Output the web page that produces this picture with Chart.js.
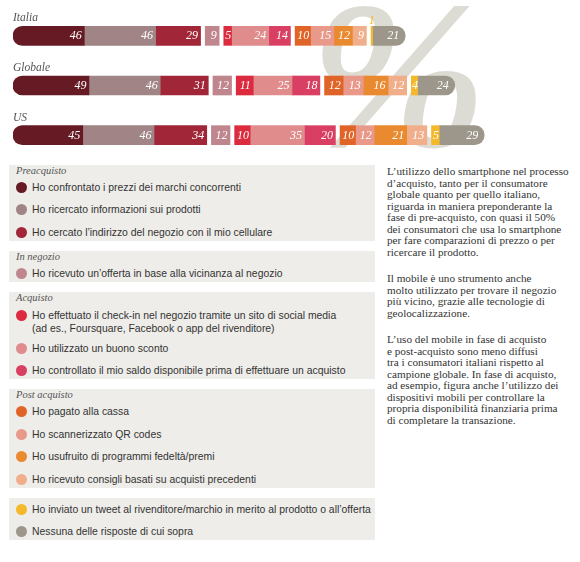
<!DOCTYPE html>
<html>
<head>
<meta charset="utf-8">
<script src="https://cdn.jsdelivr.net/npm/chart.js@4.4.1/dist/chart.umd.min.js"></script>
<style>
  body { margin: 0; background: #fff; width: 580px; height: 562px; position: relative; overflow: hidden; }
  #chartWrap { position: absolute; left: 0; top: 0; width: 580px; height: 160px; }
  #legend { position: absolute; left: 9px; top: 165px; width: 366px; }
  .box { background: #eeede9; margin-bottom: 10px; }
  .box h4 { margin: 0; padding: 0 0 0 7px; height: 11px; line-height: 12px; font: italic 10.5px "Liberation Serif", serif; color: #555; }
  .item { position: relative; padding: 4.75px 0 4.75px 23px; font: 10.4px/13px "Liberation Sans", Arial, sans-serif; color: #333; }
  .item:last-child { padding-bottom: 2.25px; }
  .item.two { padding-top: 6px; margin-bottom: -3px; }
  .item .dot { position: absolute; left: 7px; top: 5.75px; width: 11px; height: 11px; border-radius: 50%; }
  .item.two .dot { top: 7px; }
  #text { position: absolute; left: 387px; top: 166px; width: 190px; font: 11.2px/11.5px "Liberation Serif", serif; color: #333; }
  #text p { margin: 0 0 15px 0; }
</style>
</head>
<body>
<div id="chartWrap"><canvas id="chart"></canvas></div>
<div id="legend"></div>
<div id="text">
<p>L’utilizzo dello smartphone nel processo<br>d’acquisto, tanto per il consumatore<br>globale quanto per quello italiano,<br>riguarda in maniera preponderante la<br>fase di pre-acquisto, con quasi il 50%<br>dei consumatori che usa lo smartphone<br>per fare comparazioni di prezzo o per<br>ricercare il prodotto.</p>
<p>Il mobile è uno strumento anche<br>molto utilizzato per trovare il negozio<br>più vicino, grazie alle tecnologie di<br>geolocalizzazione.</p>
<p>L’uso del mobile in fase di acquisto<br>e post-acquisto sono meno diffusi<br>tra i consumatori italiani rispetto al<br>campione globale. In fase di acquisto,<br>ad esempio, figura anche l’utilizzo dei<br>dispositivi mobili per controllare la<br>propria disponibilità finanziaria prima<br>di completare la transazione.</p>
</div>
<script>
// data (percentages)
const countries = ['Italia', 'Globale', 'US'];
const confrontatoPrezzi = [46, 49, 45];
const ricercatoInfo = [46, 46, 46];
const cercatoIndirizzo = [29, 31, 34];
const offertaVicinanza = [9, 12, 12];
const checkIn = [5, 11, 10];
const buonoSconto = [24, 25, 35];
const saldoDisponibile = [14, 18, 20];
const pagatoCassa = [10, 12, 10];
const qrCodes = [15, 13, 12];
const programmiFedelta = [12, 16, 21];
const consigliAcquisti = [9, 12, 13];
const tweetRivenditore = [1, 4, 5];
const nessuna = [21, 24, 29];

const groupTitles = ['Preacquisto', 'In negozio', 'Acquisto', 'Post acquisto', ''];

const series = [
  { label: 'Ho confrontato i prezzi dei marchi concorrenti', data: confrontatoPrezzi, color: '#661b24', group: 0 },
  { label: 'Ho ricercato informazioni sui prodotti', data: ricercatoInfo, color: '#a08486', group: 0 },
  { label: 'Ho cercato l’indirizzo del negozio con il mio cellulare', data: cercatoIndirizzo, color: '#a12638', group: 0 },
  { label: 'Ho ricevuto un’offerta in base alla vicinanza al negozio', data: offertaVicinanza, color: '#c0868e', group: 1 },
  { label: 'Ho effettuato il check-in nel negozio tramite un sito di social media<br>(ad es., Foursquare, Facebook o app del rivenditore)', data: checkIn, color: '#dc2a3e', group: 2 },
  { label: 'Ho utilizzato un buono sconto', data: buonoSconto, color: '#e08b8c', group: 2 },
  { label: 'Ho controllato il mio saldo disponibile prima di effettuare un acquisto', data: saldoDisponibile, color: '#d93f62', group: 2 },
  { label: 'Ho pagato alla cassa', data: pagatoCassa, color: '#e06428', group: 3 },
  { label: 'Ho scannerizzato QR codes', data: qrCodes, color: '#e9998a', group: 3 },
  { label: 'Ho usufruito di programmi fedeltà/premi', data: programmiFedelta, color: '#ea8a30', group: 3 },
  { label: 'Ho ricevuto consigli basati su acquisti precedenti', data: consigliAcquisti, color: '#f0ae8a', group: 3 },
  { label: 'Ho inviato un tweet al rivenditore/marchio in merito al prodotto o all’offerta', data: tweetRivenditore, color: '#f5b82a', group: 4 },
  { label: 'Nessuna delle risposte di cui sopra', data: nessuna, color: '#9c978a', group: 4 }
];

const GAP = 3; // white space between phases
const BAR = 19;

// build datasets, with a transparent spacer after each phase
const datasets = [];
series.forEach((s, i) => {
  const first = i === 0, last = i === series.length - 1;
  datasets.push({
    label: s.label,
    data: s.data,
    backgroundColor: s.color,
    barThickness: BAR,
    borderSkipped: false,
    borderRadius: first ? { topLeft: 9.5, bottomLeft: 9.5, topRight: 0, bottomRight: 0 }
      : last ? { topLeft: 0, bottomLeft: 0, topRight: 9.5, bottomRight: 9.5 } : 0
  });
  const next = series[i + 1];
  if (next && next.group !== s.group) {
    datasets.push({ data: countries.map(() => GAP), backgroundColor: 'rgba(0,0,0,0)', barThickness: BAR, spacer: true });
  }
});

// big "%" behind the bars
const percentBg = {
  id: 'percentBg',
  beforeDatasetsDraw(chart) {
    const ctx = chart.ctx;
    ctx.save();
    ctx.fillStyle = '#dddcd4';
    ctx.strokeStyle = '#dddcd4';
    ctx.lineWidth = 3;
    ctx.font = 'italic 205px "Liberation Serif", serif';
    ctx.textBaseline = 'alphabetic';
    ctx.translate(312, 144);
    ctx.scale(1.02, 1);
    ctx.fillText('%', 0, 0);
    ctx.strokeText('%', 0, 0);
    ctx.restore();
  }
};

const labelsPlugin = {
  id: 'segLabels',
  afterDatasetsDraw(chart) {
    const ctx = chart.ctx;
    ctx.save();
    // country names
    ctx.font = 'italic 11.5px "Liberation Serif", serif';
    ctx.fillStyle = '#555';
    ctx.textBaseline = 'middle';
    ctx.textAlign = 'left';
    chart.data.labels.forEach((lab, i) => {
      const y = chart.scales.y.getPixelForValue(i);
      ctx.fillText(lab, chart.chartArea.left, y - 17.5);
    });
    ctx.font = 'italic 12px "Liberation Serif", serif';
    chart.data.datasets.forEach((ds, di) => {
      if (ds.spacer) return;
      const meta = chart.getDatasetMeta(di);
      const lastDs = di === chart.data.datasets.length - 1;
      meta.data.forEach((bar, i) => {
        const txt = String(ds.data[i]);
        const left = Math.min(bar.base, bar.x), right = Math.max(bar.base, bar.x);
        const w = right - left;
        const tw = ctx.measureText(txt).width;
        if (w < tw * 0.6) {
          ctx.fillStyle = ds.backgroundColor;
          ctx.textAlign = 'center';
          ctx.fillText(txt, (left + right) / 2, bar.y - 15);
        } else if (w < tw + 5) {
          ctx.fillStyle = '#fff';
          ctx.textAlign = 'center';
          ctx.fillText(txt, (left + right) / 2 + 0.5, bar.y + 0.5);
        } else {
          ctx.fillStyle = '#fff';
          ctx.textAlign = 'right';
          ctx.fillText(txt, right - (lastDs ? 6 : 2.5), bar.y + 0.5);
        }
      });
    });
    ctx.restore();
  }
};

new Chart(document.getElementById('chart').getContext('2d'), {
  type: 'bar',
  data: { labels: countries, datasets: datasets },
  options: {
    indexAxis: 'y',
    responsive: true,
    maintainAspectRatio: false,
    animation: false,
    layout: { padding: { left: 13, right: 9, top: 11, bottom: 0 } },
    scales: {
      x: { stacked: true, display: false, min: 0, max: 360 },
      y: { stacked: true, display: false }
    },
    plugins: { legend: { display: false }, tooltip: { enabled: false } }
  },
  plugins: [percentBg, labelsPlugin]
});

// html legend grouped by phase
const legend = document.getElementById('legend');
groupTitles.forEach((title, g) => {
  const box = document.createElement('div');
  box.className = 'box';
  if (title) {
    const h = document.createElement('h4');
    h.textContent = title;
    box.appendChild(h);
  }
  series.filter(s => s.group === g).forEach(s => {
    const it = document.createElement('div');
    it.className = 'item' + (s.label.indexOf('<br>') >= 0 ? ' two' : '');
    it.innerHTML = '<span class="dot" style="background:' + s.color + '"></span>' + s.label;
    box.appendChild(it);
  });
  legend.appendChild(box);
});
</script>
</body>
</html>
